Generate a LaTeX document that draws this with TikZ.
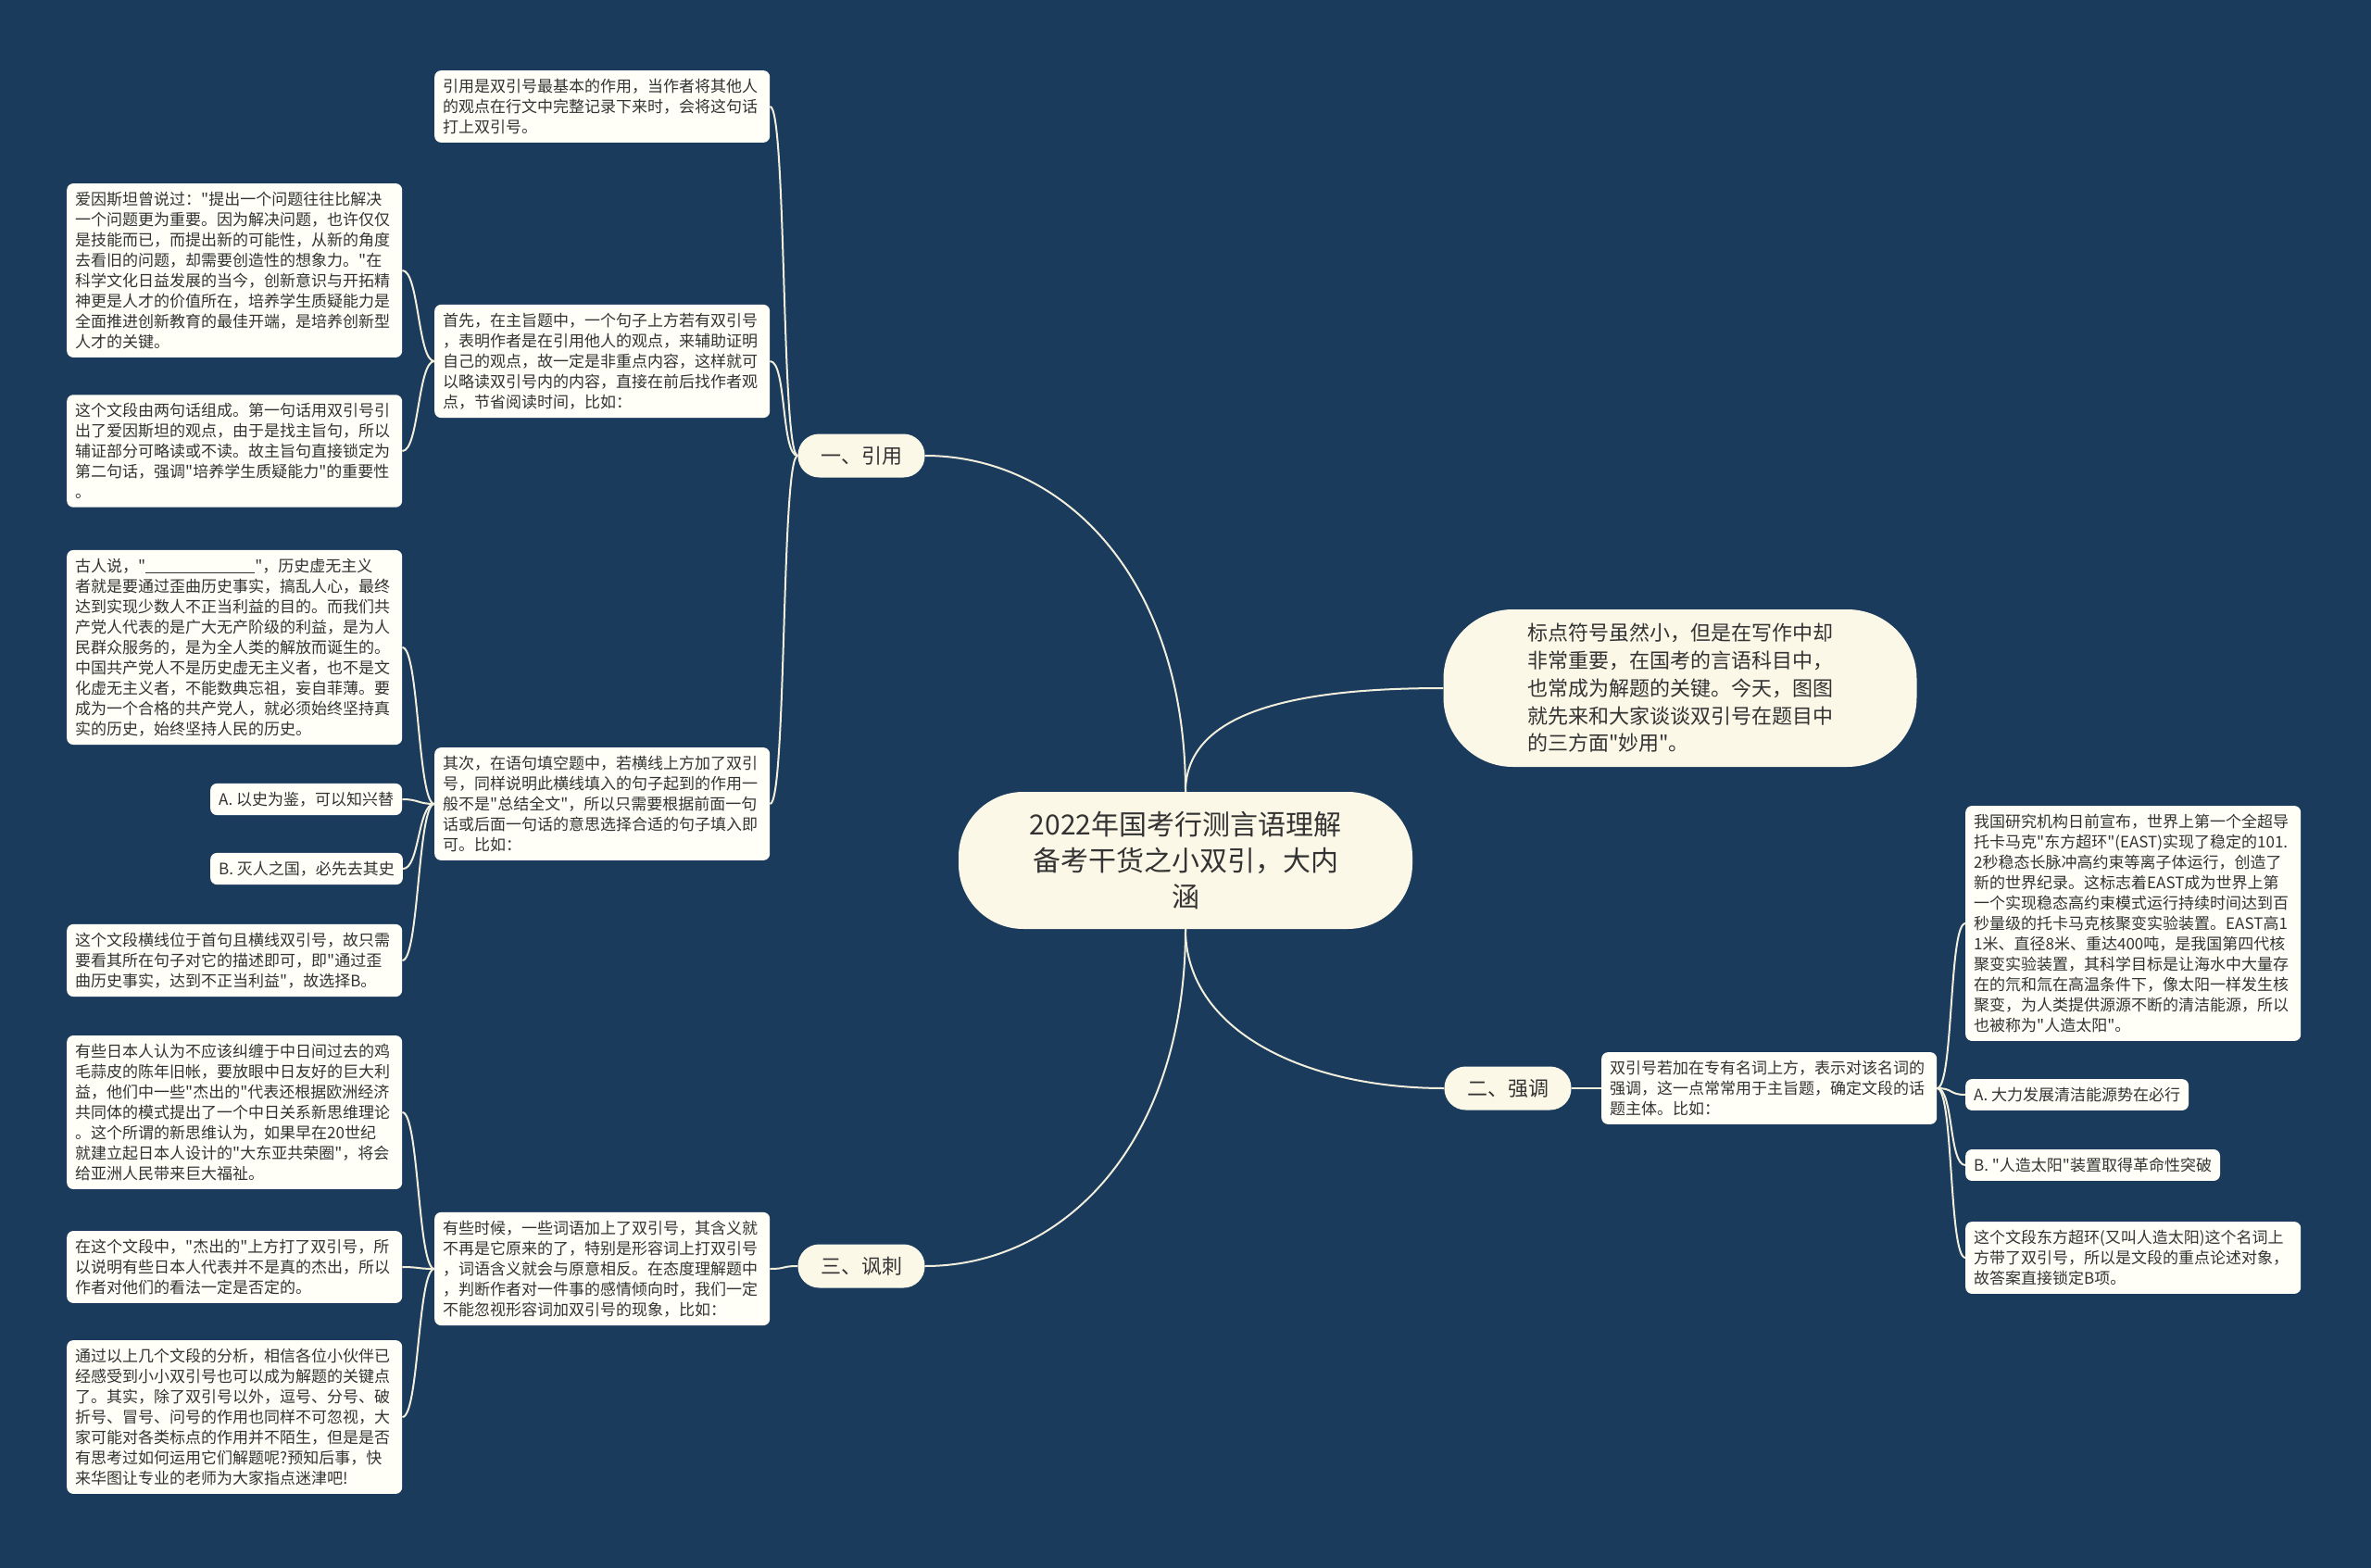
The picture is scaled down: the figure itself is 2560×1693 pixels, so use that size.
\documentclass[tikz,border=0pt]{standalone}
\usepackage{fontspec}
\newfontfamily\cjk{Noto Sans CJK SC}
\usetikzlibrary{positioning}

\definecolor{bgblue}{HTML}{1A3B5C}
\definecolor{cream}{HTML}{FCF8E8}
\definecolor{cardfill}{HTML}{FFFFF8}
\definecolor{inkgray}{HTML}{333333}
\definecolor{wirecol}{HTML}{F2EEDC}

\tikzset{
  card/.style={fill=cardfill, rounded corners=7pt, text=inkgray, align=left,
    font=\cjk\fontsize{17pt}{22pt}\selectfont, inner xsep=9pt, inner ysep=9pt, anchor=west},
  widecard/.style={card, text width=344pt},
  branch/.style={fill=cream, rounded corners=23pt, text=inkgray,
    font=\cjk\fontsize{22pt}{26pt}\selectfont, minimum width=137pt, minimum height=47pt},
  wire/.style={draw=wirecol, line width=2pt},
}

\begin{document}
\begin{tikzpicture}[x=1pt,y=-1pt]
    % Background:
    \fill [bgblue] (0,0) rectangle (2560,1693);
    \useasboundingbox (0,0) rectangle (2560,1693);

    \begin{scope}
    % Centre and first level:
    \node [fill=cream, rounded corners=70pt, text=inkgray, align=center,
           minimum width=490pt, minimum height=148pt,
           font=\cjk\fontsize{30pt}{39pt}\selectfont] (root) at (1280,929)
        {2022年国考行测言语理解\\备考干货之小双引，大内\\涵};
    \node [fill=cream, rounded corners=75pt, text=inkgray, align=left,
           minimum width=511pt, minimum height=170pt,
           font=\cjk\fontsize{22pt}{29.7pt}\selectfont] (intro) at (1814,743)
        {标点符号虽然小，但是在写作中却\\非常重要，在国考的言语科目中，\\也常成为解题的关键。今天，图图\\就先来和大家谈谈双引号在题目中\\的三方面"妙用"。};
    \node [branch] (yinyong)   at (930,492)  {一、引用};
    \node [branch] (qiangdiao) at (1628,1175) {二、强调};
    \node [branch] (fengci)    at (930,1367) {三、讽刺};

    % Branch one: quoting
    \node [widecard] (yyA) at (469,115) {引用是双引号最基本的作用，当作者将其他人\\的观点在行文中完整记录下来时，会将这句话\\打上双引号。};
    \node [widecard] (yyB) at (469,390) {首先，在主旨题中，一个句子上方若有双引号\\，表明作者是在引用他人的观点，来辅助证明\\自己的观点，故一定是非重点内容，这样就可\\以略读双引号内的内容，直接在前后找作者观\\点，节省阅读时间，比如：};
    \node [widecard] (yyC) at (469,868) {其次，在语句填空题中，若横线上方加了双引\\号，同样说明此横线填入的句子起到的作用一\\般不是"总结全文"，所以只需要根据前面一句\\话或后面一句话的意思选择合适的句子填入即\\可。比如：};

    \node [widecard] (yyB1) at (72,292) {爱因斯坦曾说过："提出一个问题往往比解决\\一个问题更为重要。因为解决问题，也许仅仅\\是技能而已，而提出新的可能性，从新的角度\\去看旧的问题，却需要创造性的想象力。"在\\科学文化日益发展的当今，创新意识与开拓精\\神更是人才的价值所在，培养学生质疑能力是\\全面推进创新教育的最佳开端，是培养创新型\\人才的关键。};
    \node [widecard] (yyB2) at (72,487) {这个文段由两句话组成。第一句话用双引号引\\出了爱因斯坦的观点，由于是找主旨句，所以\\辅证部分可略读或不读。故主旨句直接锁定为\\第二句话，强调"培养学生质疑能力"的重要性\\。};
    \node [widecard] (yyC1) at (72,699) {古人说，"\rule[-2pt]{118pt}{0.8pt}"，历史虚无主义\\者就是要通过歪曲历史事实，搞乱人心，最终\\达到实现少数人不正当利益的目的。而我们共\\产党人代表的是广大无产阶级的利益，是为人\\民群众服务的，是为全人类的解放而诞生的。\\中国共产党人不是历史虚无主义者，也不是文\\化虚无主义者，不能数典忘祖，妄自菲薄。要\\成为一个合格的共产党人，就必须始终坚持真\\实的历史，始终坚持人民的历史。};
    \node [card] (yyC2) at (227,863) {A. 以史为鉴，可以知兴替};
    \node [card] (yyC3) at (227,938) {B. 灭人之国，必先去其史};
    \node [widecard] (yyC4) at (72,1037) {这个文段横线位于首句且横线双引号，故只需\\要看其所在句子对它的描述即可，即"通过歪\\曲历史事实，达到不正当利益"，故选择B。};

    % Branch two: stressing
    \node [widecard] (qdA) at (1729,1175) {双引号若加在专有名词上方，表示对该名词的\\强调，这一点常常用于主旨题，确定文段的话\\题主体。比如：};
    \node [widecard] (qdA1) at (2122,997) {我国研究机构日前宣布，世界上第一个全超导\\托卡马克"东方超环"(EAST)实现了稳定的101.\\2秒稳态长脉冲高约束等离子体运行，创造了\\新的世界纪录。这标志着EAST成为世界上第\\一个实现稳态高约束模式运行持续时间达到百\\秒量级的托卡马克核聚变实验装置。EAST高1\\1米、直径8米、重达400吨，是我国第四代核\\聚变实验装置，其科学目标是让海水中大量存\\在的氘和氚在高温条件下，像太阳一样发生核\\聚变，为人类提供源源不断的清洁能源，所以\\也被称为"人造太阳"。};
    \node [card] (qdA2) at (2122,1182) {A. 大力发展清洁能源势在必行};
    \node [card] (qdA3) at (2122,1258) {B. "人造太阳"装置取得革命性突破};
    \node [widecard] (qdA4) at (2122,1358) {这个文段东方超环(又叫人造太阳)这个名词上\\方带了双引号，所以是文段的重点论述对象，\\故答案直接锁定B项。};

    % Branch three: irony
    \node [widecard] (fcA) at (469,1370) {有些时候，一些词语加上了双引号，其含义就\\不再是它原来的了，特别是形容词上打双引号\\，词语含义就会与原意相反。在态度理解题中\\，判断作者对一件事的感情倾向时，我们一定\\不能忽视形容词加双引号的现象，比如：};
    \node [widecard] (fcA1) at (72,1201) {有些日本人认为不应该纠缠于中日间过去的鸡\\毛蒜皮的陈年旧帐，要放眼中日友好的巨大利\\益，他们中一些"杰出的"代表还根据欧洲经济\\共同体的模式提出了一个中日关系新思维理论\\。这个所谓的新思维认为，如果早在20世纪\\就建立起日本人设计的"大东亚共荣圈"，将会\\给亚洲人民带来巨大福祉。};
    \node [widecard] (fcA2) at (72,1368) {在这个文段中，"杰出的"上方打了双引号，所\\以说明有些日本人代表并不是真的杰出，所以\\作者对他们的看法一定是否定的。};
    \node [widecard] (fcA3) at (72,1530) {通过以上几个文段的分析，相信各位小伙伴已\\经感受到小小双引号也可以成为解题的关键点\\了。其实，除了双引号以外，逗号、分号、破\\折号、冒号、问号的作用也同样不可忽视，大\\家可能对各类标点的作用并不陌生，但是是否\\有思考过如何运用它们解题呢?预知后事，快\\来华图让专业的老师为大家指点迷津吧!};
    \end{scope}

    % Connectors:
    \begin{scope}[wire]
    \draw (root.north) .. controls +(0,-230) and +(150,0) .. (yinyong.east);
    \draw (root.north) .. controls +(0,-90) and +(-150,0) .. (intro.west);
    \draw (root.south) .. controls +(0,110) and +(-150,0) .. (qiangdiao.west);
    \draw (root.south) .. controls +(0,230) and +(150,0) .. (fengci.east);

    \foreach \kid in {yyA,yyB,yyC}
        \draw (yinyong.west) .. controls +(-18,0) and +(18,0) .. (\kid.east);
    \foreach \kid in {yyB1,yyB2}
        \draw (yyB.west) .. controls +(-18,0) and +(18,0) .. (\kid.east);
    \foreach \kid in {yyC1,yyC2,yyC3,yyC4}
        \draw (yyC.west) .. controls +(-18,0) and +(18,0) .. (\kid.east);

    \draw (qiangdiao.east) -- (qdA.west);
    \foreach \kid in {qdA1,qdA2,qdA3,qdA4}
        \draw (qdA.east) .. controls +(18,0) and +(-18,0) .. (\kid.west);

    \draw (fengci.west) .. controls +(-18,0) and +(18,0) .. (fcA.east);
    \foreach \kid in {fcA1,fcA2,fcA3}
        \draw (fcA.west) .. controls +(-18,0) and +(18,0) .. (\kid.east);
    \end{scope}
\end{tikzpicture}
\end{document}
